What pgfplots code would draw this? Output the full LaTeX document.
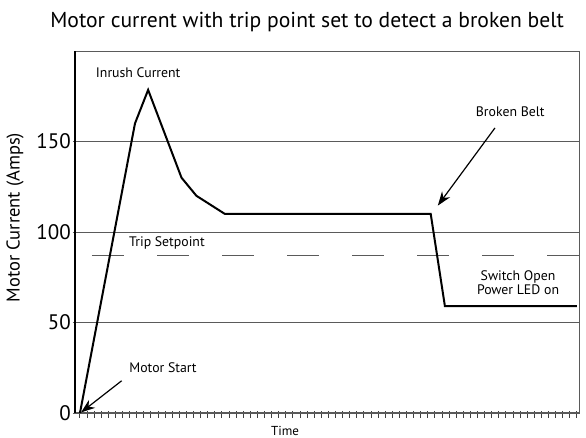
\documentclass[border=0pt]{standalone}
\usepackage{fontspec}
\setmainfont{PT Sans}
\usepackage{pgfplots}
\pgfplotsset{compat=1.18}
\usetikzlibrary{arrows.meta}
\definecolor{gridgray}{HTML}{5A5A5A}
\begin{document}
\begin{tikzpicture}
\useasboundingbox (-75pt,-25pt) rectangle (511pt,413pt);
\begin{axis}[
  at={(0pt,0pt)}, anchor=south west,
  x=7.1pt, y=1.81pt,
  xmin=-0.7, xmax=70.4, ymin=0, ymax=200,
  clip=false,
  axis line style={draw=none},
  tick pos=left,
  xtick={0,1,...,70}, xticklabels={},
  ytick={0,50,100,150},
  ymajorgrids, grid style={gridgray, line width=0.9pt},
  tick align=outside,
  major tick length=6.5pt,
  x tick style={black!75, line width=1pt, yshift=1.7pt},
  y tick style={gridgray, line width=0.8pt, xshift=4.5pt},
  /pgf/number format/assume math mode=true,
  yticklabel style={font=\fontsize{21}{23}\selectfont, inner sep=2pt, xshift=4.5pt},
]
% frame
\draw[gridgray, line width=0.9pt] (rel axis cs:0,1) -- (rel axis cs:1,1) -- (rel axis cs:1,0);
\draw[gridgray, line width=1.3pt] (rel axis cs:0,0) -- (rel axis cs:1,0);
\draw[black, line width=1.1pt] (rel axis cs:0,0) -- (rel axis cs:0,1);
% trip setpoint
\addplot[gridgray, line width=1pt, dash pattern=on 32pt off 33pt, dash phase=48pt] coordinates {(-0.7,87) (70.4,87)};
% motor current
\addplot[black, line width=2pt, line join=miter] coordinates {
(0,0) (7.75,160) (9.6,178.5) (14.3,130) (16.4,120) (20.4,110) (49.4,110) (51.4,59) (70,59)};
% annotations
\node[font=\fontsize{13.8}{16}\selectfont] at (axis cs:8.2,187.8) {Inrush Current};
\node[font=\fontsize{13.8}{16}\selectfont] at (axis cs:60.6,166.3) {Broken Belt};
\node[font=\fontsize{13.8}{16}\selectfont, anchor=west, inner sep=0pt] at (axis cs:6.9,93.9) {Trip Setpoint};
\node[font=\fontsize{13.8}{16}\selectfont, align=center] at (axis cs:61.7,72.1) {Switch Open\\[-2pt]Power LED on};
\node[font=\fontsize{13.8}{16}\selectfont] at (axis cs:11.7,24.9) {Motor Start};
\node[font=\fontsize{13}{15}\selectfont] at (axis cs:28.9,-9.9) {Time};
\node[font=\fontsize{18.5}{21}\selectfont, rotate=90] at (axis cs:-9.15,108) {Motor Current (Amps)};
\node[font=\fontsize{21.6}{24}\selectfont] at (axis cs:32.0,216) {Motor current with trip point set to detect a broken belt};
\draw[-{Stealth[length=14pt,width=10pt]}, line width=1.2pt] (axis cs:58.45,157.5) -- (axis cs:50.4,114.6);
\draw[-{Stealth[length=14pt,width=10pt]}, line width=1.2pt] (axis cs:5.87,17.8) -- (axis cs:0.15,0.3);
\end{axis}
\end{tikzpicture}
\end{document}
